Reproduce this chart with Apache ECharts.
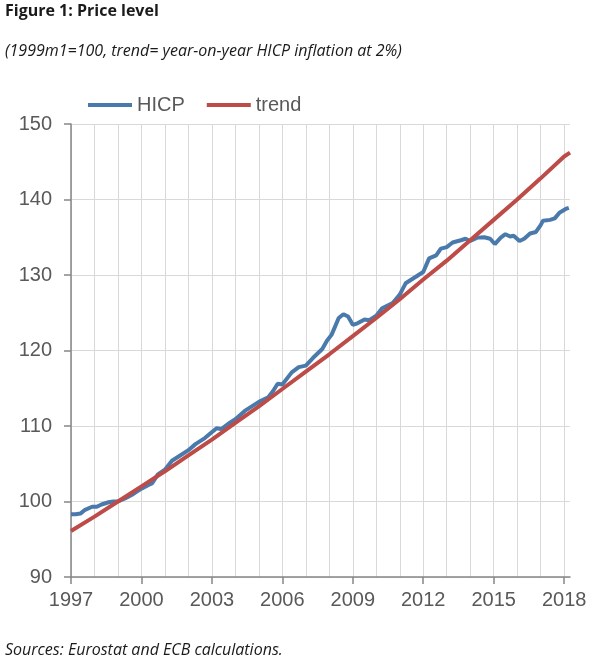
<!DOCTYPE html>
<html>
<head>
<meta charset="utf-8">
<script src="https://cdn.jsdelivr.net/npm/echarts@6/dist/echarts.min.js"></script>
<style>
html,body{margin:0;padding:0;background:#fff;}
#chart{width:605px;height:669px;}
</style>
</head>
<body>
<div id="chart"></div>
<script>
// ---- data ----
const hicpYears = [1997.0,1997.2,1997.4,1997.6,1997.9,1998.1,1998.3,1998.6,1998.8,1999.0,
  1999.3,1999.6,1999.8,2000.0,2000.3,2000.45,2000.7,2001.0,2001.3,2001.6,
  2002.0,2002.3,2002.7,2003.2,2003.4,2003.7,2004.0,2004.4,2004.7,2005.0,
  2005.4,2005.6,2005.8,2006.0,2006.4,2006.7,2007.0,2007.3,2007.7,2007.9,
  2008.1,2008.4,2008.6,2008.8,2009.0,2009.2,2009.5,2009.7,2010.0,2010.25,
  2010.7,2011.0,2011.25,2011.5,2011.8,2012.0,2012.25,2012.55,2012.75,2013.0,
  2013.25,2013.6,2013.8,2014.0,2014.3,2014.6,2014.85,2015.05,2015.3,2015.5,
  2015.7,2015.85,2016.1,2016.3,2016.55,2016.8,2017.0,2017.1,2017.4,2017.6,
  2017.8,2018.1,2018.2];
const hicpValues = [98.3,98.3,98.4,98.9,99.3,99.3,99.6,99.9,100.0,100.0,
  100.4,100.9,101.3,101.7,102.2,102.4,103.6,104.2,105.4,106.0,
  106.8,107.6,108.4,109.7,109.6,110.3,110.9,112.0,112.6,113.2,
  113.8,114.6,115.6,115.5,117.1,117.8,118.0,119.0,120.2,121.3,
  122.1,124.3,124.8,124.5,123.4,123.6,124.1,124.0,124.6,125.6,
  126.3,127.4,128.9,129.4,130.0,130.4,132.2,132.6,133.5,133.7,
  134.3,134.6,134.8,134.5,134.95,135.0,134.8,134.1,134.95,135.4,
  135.1,135.2,134.5,134.8,135.5,135.7,136.6,137.2,137.3,137.5,
  138.25,138.8,138.9];
const trendYears = [1997,1998,1999,2000,2001,2002,2003,2004,2005,2006,2007,
  2008,2009,2010,2011,2012,2013,2014,2015,2016,2017,2018,2018.25];
const trendValues = [96.1,98.0,100.0,102.0,104.0,106.1,108.2,110.4,112.6,114.9,117.2,
  119.5,121.9,124.3,126.8,129.4,131.9,134.6,137.3,140.0,142.8,145.7,146.2];
const xTickLabels = [1997,2000,2003,2006,2009,2012,2015,2018];
const yTicks = [90,100,110,120,130,140,150];
const seriesNames = ['HICP','trend'];
const titleText = 'Figure 1: Price level';
const subtitleText = '(1999m1=100, trend= year-on-year HICP inflation at 2%)';
const sourceText = 'Sources: Eurostat and ECB calculations.';

const hicpData = hicpYears.map((y,i)=>[y,hicpValues[i]]);
const trendData = trendYears.map((y,i)=>[y,trendValues[i]]);

const labelColor = '#595959';
const gridColor = '#d9d9d9';
const axisColor = '#868686';
const X_MIN = 1997, X_MAX = 2018.25;

const chart = echarts.init(document.getElementById('chart'));
chart.setOption({
  animation:false,
  backgroundColor:'#fff',
  title:[
    {text:titleText,left:5,top:3,padding:0,
     textStyle:{fontFamily:'Open Sans',fontWeight:'bold',fontSize:16,color:'#1a1a1a'}},
    {text:subtitleText,left:5,top:43,padding:0,
     textStyle:{fontFamily:'Open Sans',fontStyle:'italic',fontWeight:'normal',fontSize:16,color:'#1a1a1a'}},
    {text:sourceText,left:5,top:642,padding:0,
     textStyle:{fontFamily:'Open Sans',fontStyle:'italic',fontWeight:'normal',fontSize:16,color:'#1a1a1a'}}
  ],
  legend:{
    data:seriesNames.map(n=>({name:n,icon:'rect'})),
    left:88, top:95, padding:0,
    itemWidth:44, itemHeight:4, itemGap:22,
    textStyle:{fontFamily:'Liberation Sans',fontSize:20,color:labelColor}
  },
  grid:{left:71,right:35,top:124,bottom:92,containLabel:false},
  xAxis:[
    {type:'value',position:'bottom',min:X_MIN,max:X_MAX,interval:1,
     axisLine:{show:false},axisTick:{show:false},axisLabel:{show:false},
     splitLine:{show:true,showMaxLine:false,lineStyle:{color:gridColor,width:1}}},
    {type:'value',position:'bottom',min:X_MIN,max:X_MAX,interval:3,
     axisLine:{show:true,onZero:false,lineStyle:{color:axisColor,width:1.5}},
     axisTick:{show:true,length:7,customValues:xTickLabels,lineStyle:{color:axisColor,width:1.5}},
     axisLabel:{customValues:xTickLabels,margin:13,fontFamily:'Liberation Sans',fontSize:20,color:labelColor,
       formatter:v=>String(v)},
     splitLine:{show:false}}
  ],
  yAxis:{type:'value',min:90,max:150,interval:10,
    axisLine:{show:true,lineStyle:{color:axisColor,width:1.5}},
    axisTick:{show:true,length:7,lineStyle:{color:axisColor,width:1.5}},
    axisLabel:{margin:19,fontFamily:'Liberation Sans',fontSize:20,color:labelColor},
    splitLine:{show:true,lineStyle:{color:gridColor,width:1}}},
  series:[
    {name:seriesNames[0],type:'line',xAxisIndex:0,data:hicpData,showSymbol:false,symbol:'none',
     lineStyle:{color:'#4a7aac',width:4},itemStyle:{color:'#4a7aac'}},
    {name:seriesNames[1],type:'line',xAxisIndex:0,data:trendData,showSymbol:false,symbol:'none',
     lineStyle:{color:'#bd4b48',width:4},itemStyle:{color:'#bd4b48'}}
  ]
});
</script>
</body>
</html>
